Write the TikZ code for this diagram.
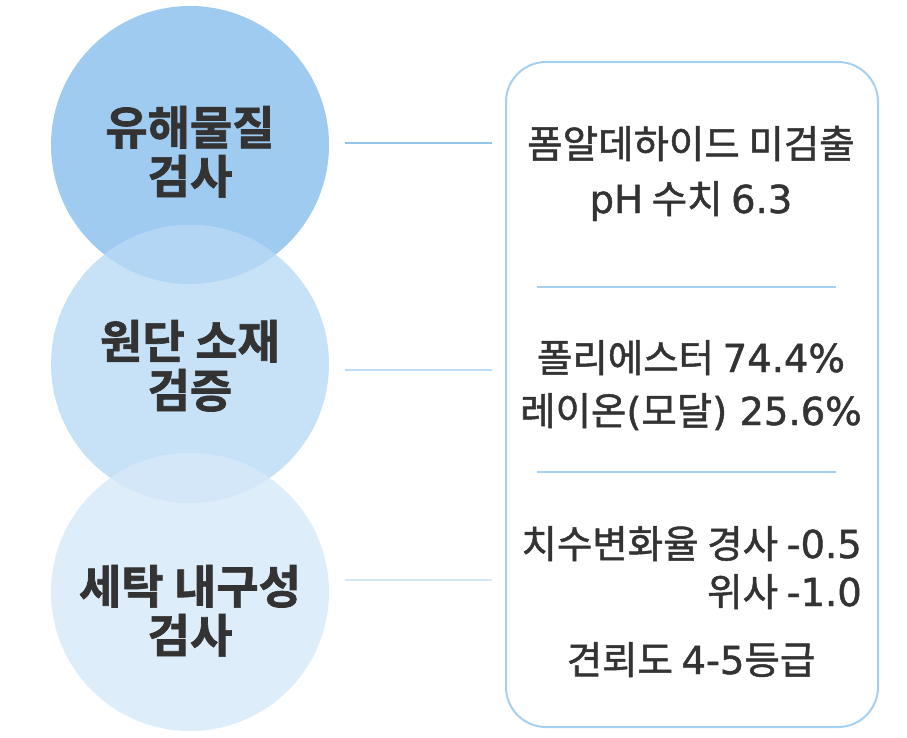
\documentclass[tikz,border=0pt]{standalone}
\usepackage{fontspec}
\newfontfamily\kr[FakeBold=1.3]{Noto Sans CJK KR}
\newfontfamily\krb[FakeBold=1.5]{Noto Sans CJK KR Bold}
\newfontfamily\lat[FakeBold=1.2]{DejaVu Sans}
\definecolor{cA}{HTML}{9FCBF0}
\definecolor{cB}{HTML}{C7E2F7}
\definecolor{cC}{HTML}{DEEDFA}
\definecolor{cAB}{HTML}{B2D6F3}
\definecolor{cBC}{HTML}{D3E7F8}
\definecolor{lA}{HTML}{93C5EE}
\definecolor{lB}{HTML}{BBDCF5}
\definecolor{lC}{HTML}{D6E8F8}
\definecolor{bord}{HTML}{A6D0F2}
\definecolor{txt}{HTML}{333333}
\newcommand{\LT}[1]{{\lat #1}}
\begin{document}
\begin{tikzpicture}[x=1pt,y=-1pt,
  circtxt/.style={font=\krb\fontsize{46}{52}\selectfont, text=txt, anchor=base, inner sep=0pt},
  boxtxt/.style={font=\kr\fontsize{38.5}{44}\selectfont, text=txt, anchor=base, inner sep=0pt},
  conn/.style={line width=2pt},
  sep/.style={line width=2pt, draw=bord}]
\useasboundingbox (0,0) rectangle (907,737);
% circles
\fill[cA] (190,145) circle (139);
\fill[cB] (190,364) circle (139);
\fill[cC] (190,592) circle (139);
\begin{scope}
  \clip (190,145) circle (139);
  \fill[cAB] (190,364) circle (139);
\end{scope}
\begin{scope}
  \clip (190,364) circle (139);
  \fill[cBC] (190,592) circle (139);
\end{scope}
% circle labels
\node[circtxt] (t1a) at (190,144.5) {유해물질};
\node[circtxt] (t1b) at (190,193.5) {검사};
\node[circtxt] (t2a) at (190,358.5) {원단 소재};
\node[circtxt] (t2b) at (190,407.5) {검증};
\node[circtxt] (t3a) at (190,603.5) {세탁 내구성};
\node[circtxt] (t3b) at (190,652.5) {검사};
% box
\node[draw=bord, line width=2pt, rounded corners=40pt, minimum width=372pt, minimum height=665pt, inner sep=0pt] (box) at (692,394.5) {};
% connectors
\coordinate (a1) at (345,143); \coordinate (a2) at (492,143);
\coordinate (b1) at (345,370); \coordinate (b2) at (492,370);
\coordinate (c1) at (345,580); \coordinate (c2) at (492,580);
\draw[conn, draw=lA] (a1) -- (a2);
\draw[conn, draw=lB] (b1) -- (b2);
\draw[conn, draw=lC] (c1) -- (c2);
% separators
\coordinate (s1l) at (537,287); \coordinate (s1r) at (836,287);
\coordinate (s2l) at (537,472); \coordinate (s2r) at (836,472);
\draw[sep] (s1l) -- (s1r);
\draw[sep] (s2l) -- (s2r);
% box texts
\node[boxtxt] (r1) at (691,158) {폼알데하이드 미검출};
\node[boxtxt] (r2) at (691,213) {\LT{pH} 수치 \LT{6.3}};
\node[boxtxt] (r3) at (691,372) {폴리에스터 \LT{74.4\%}};
\node[boxtxt] (r4) at (691,425) {레이온\LT{(}모달\LT{) 25.6\%}};
\node[boxtxt, anchor=base east] (r5) at (862,558) {치수변화율 경사 \LT{-0.5}};
\node[boxtxt, anchor=base east] (r6) at (862,606) {위사 \LT{-1.0}};
\node[boxtxt] (r7) at (691,674) {견뢰도 \LT{4-5}등급};
\end{tikzpicture}
\end{document}
